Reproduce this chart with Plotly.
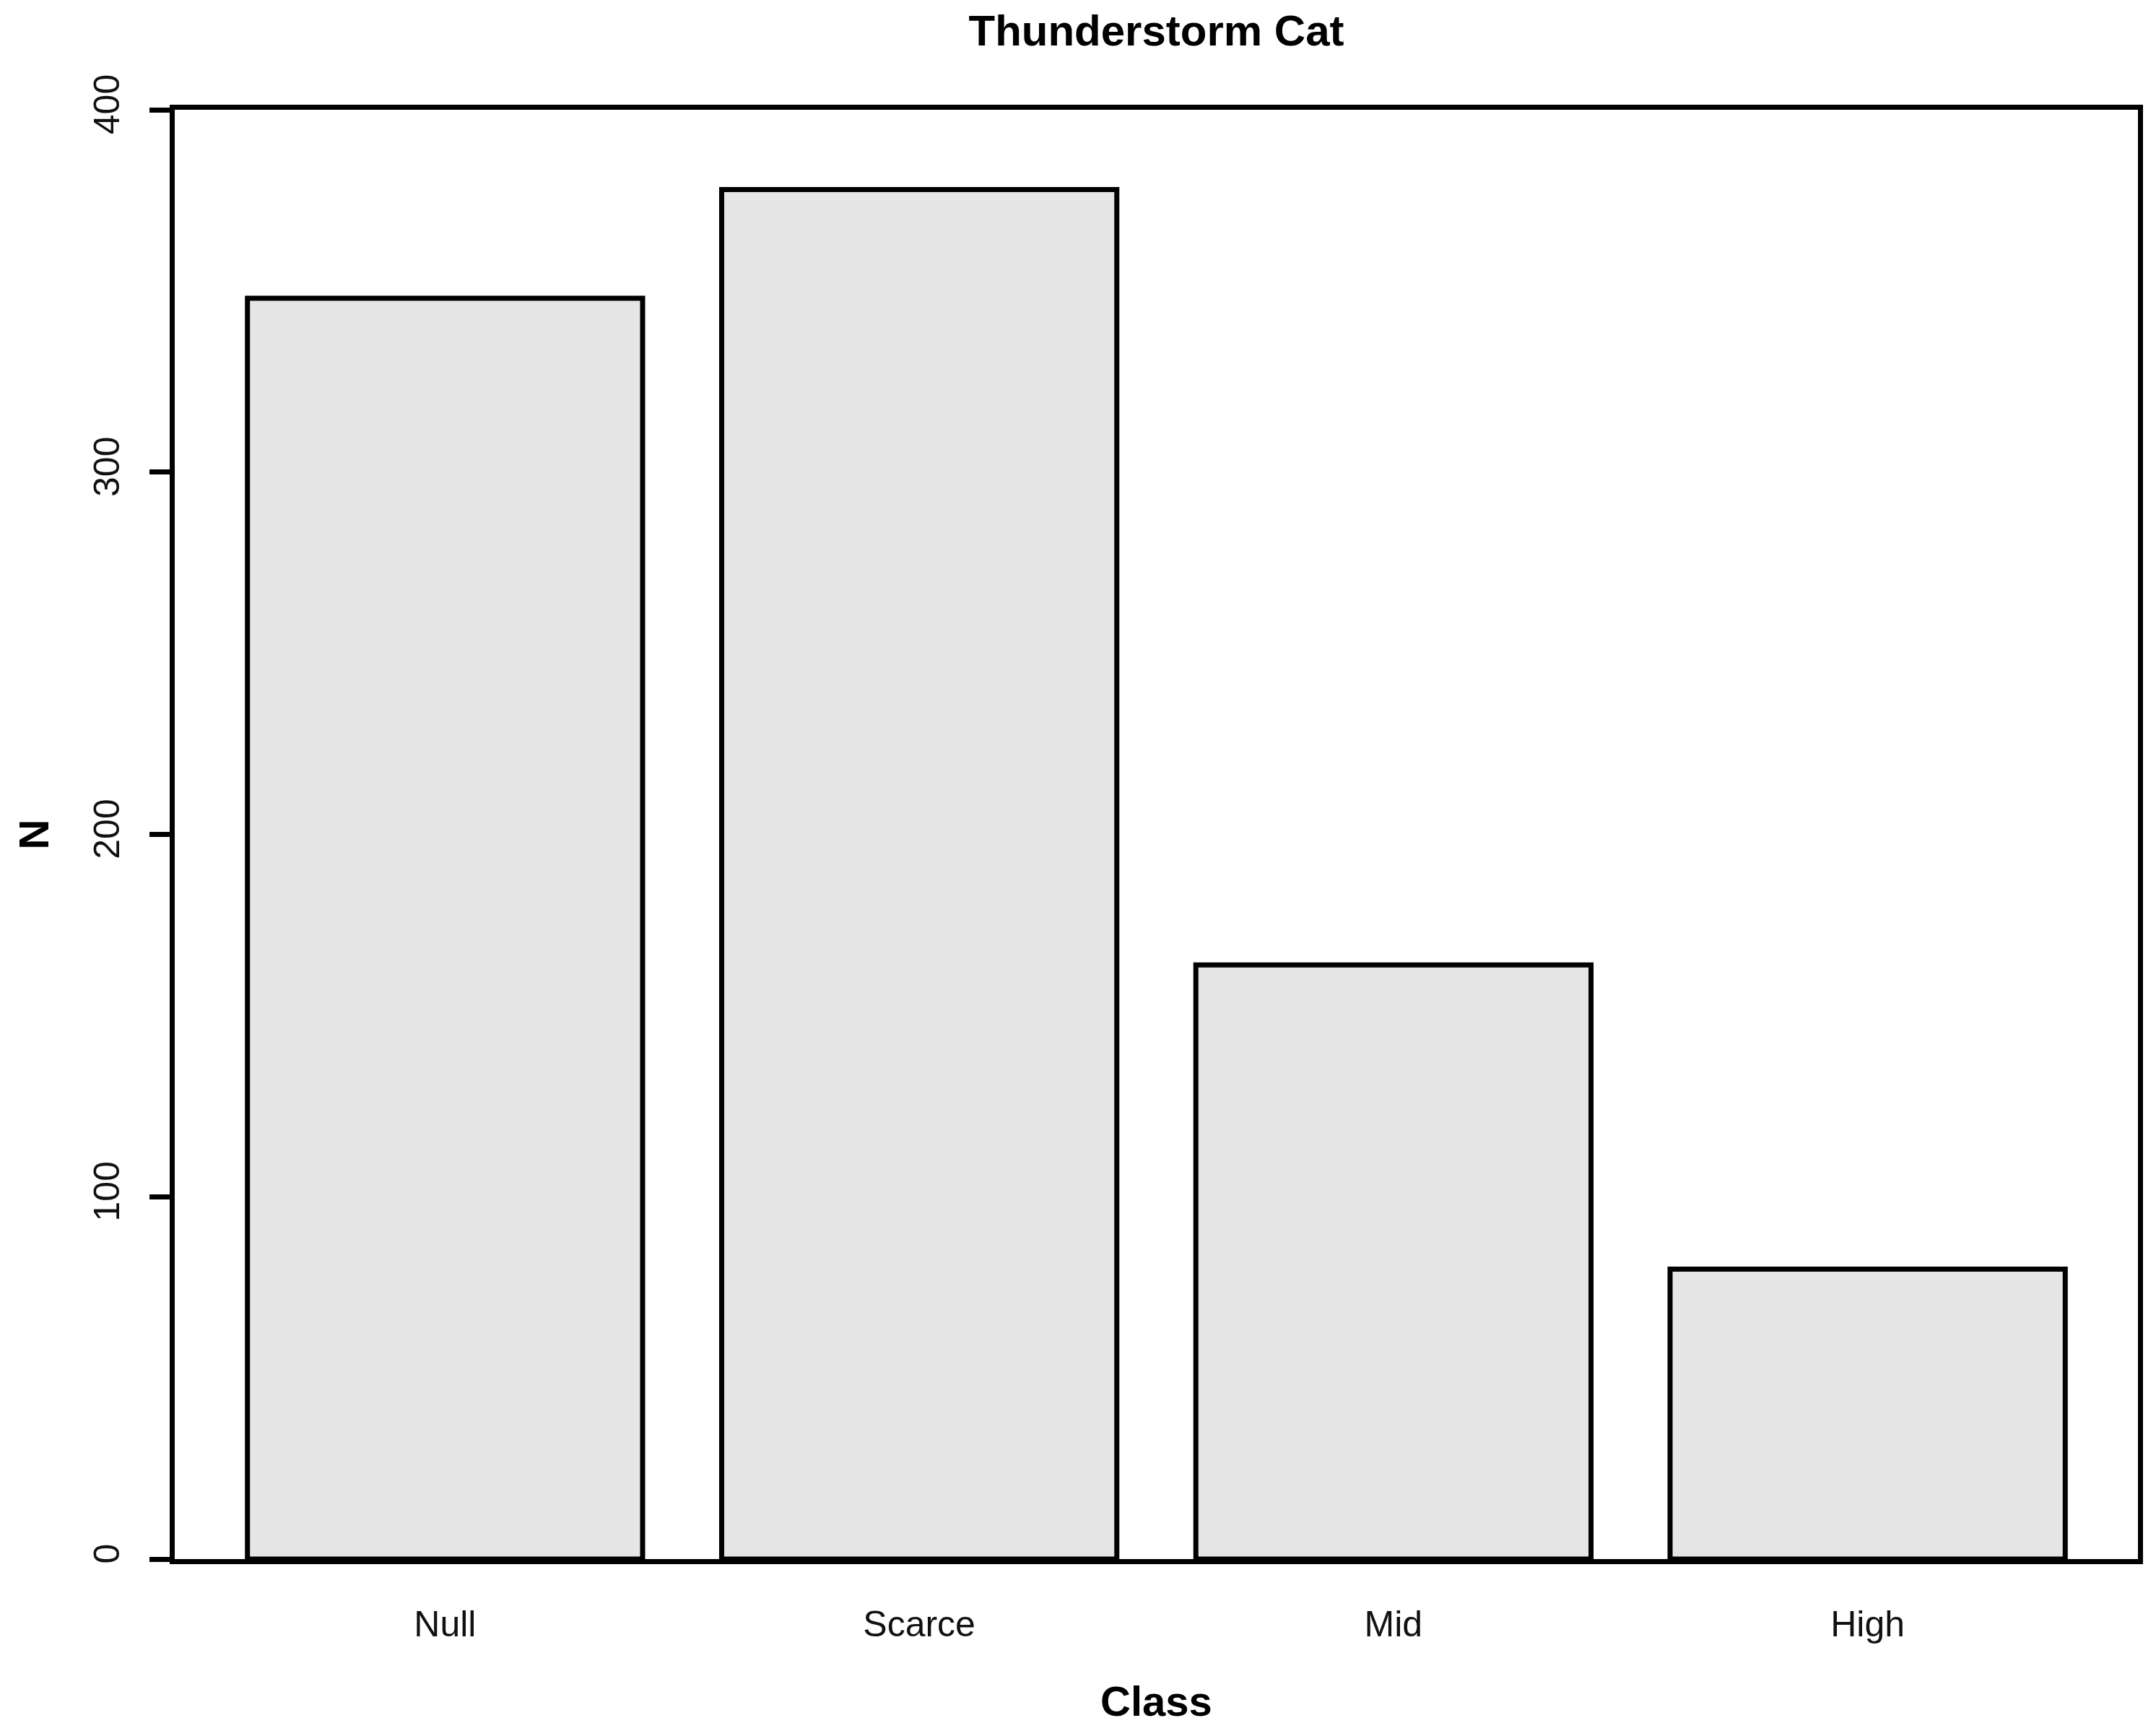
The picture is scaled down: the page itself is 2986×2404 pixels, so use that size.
import plotly.graph_objects as go

categories = ["Null", "Scarce", "Mid", "High"]
counts = [348, 378, 164, 80]
y_ticks = [0, 100, 200, 300, 400]

W, H = 2986, 2404
L, R, T, B = 234, 33, 144, 253
FONT = "Liberation Sans, Arial, sans-serif"
LW = 7

fig = go.Figure(go.Bar(
    x=categories, y=counts, width=0.8333,
    marker=dict(color="#E5E5E5", line=dict(color="black", width=LW)),
))

fig.update_layout(
    width=W, height=H, autosize=False,
    margin=dict(l=L, r=R, t=T, b=B, pad=0),
    plot_bgcolor="white", paper_bgcolor="white",
    showlegend=False,
    font=dict(family=FONT, color="black", size=50),
    title=dict(text="<b>Thunderstorm Cat</b>", x=(L + (W - L - R) / 2) / W, xanchor="center",
               y=1 - 34 / H, yanchor="middle", yref="container",
               font=dict(size=60, family=FONT, color="black")),
)

fig.update_xaxes(
    type="category", range=[-0.57, 3.57],
    showline=True, mirror=True, linecolor="black", linewidth=LW,
    showgrid=False, zeroline=False,
    ticks="outside", ticklen=0, tickcolor="rgba(0,0,0,0)",
    ticklabelstandoff=40,
    tickfont=dict(size=50, family=FONT, color="#111"),
)
fig.update_yaxes(
    range=[0, 400], tickvals=y_ticks, ticktext=[str(v) for v in y_ticks],
    showline=True, mirror=True, linecolor="black", linewidth=LW,
    showgrid=False, zeroline=False,
    ticks="outside", ticklen=28, tickwidth=LW, tickcolor="black",
    tickangle=-90, ticklabelstandoff=22,
    tickfont=dict(size=50, family=FONT, color="#111"),
)

plot_h = H - T - B
plot_w = W - L - R
fig.add_annotation(text="<b>Class</b>", xref="paper", yref="paper",
                   x=0.5, y=-196 / plot_h, xanchor="center", yanchor="middle",
                   showarrow=False, font=dict(size=58, family=FONT, color="black"))
fig.add_annotation(text="<b>N</b>", xref="paper", yref="paper",
                   x=-196 / plot_w, y=0.5, xanchor="center", yanchor="middle",
                   textangle=-90, showarrow=False,
                   font=dict(size=58, family=FONT, color="black"))

fig.write_html("out.html")
